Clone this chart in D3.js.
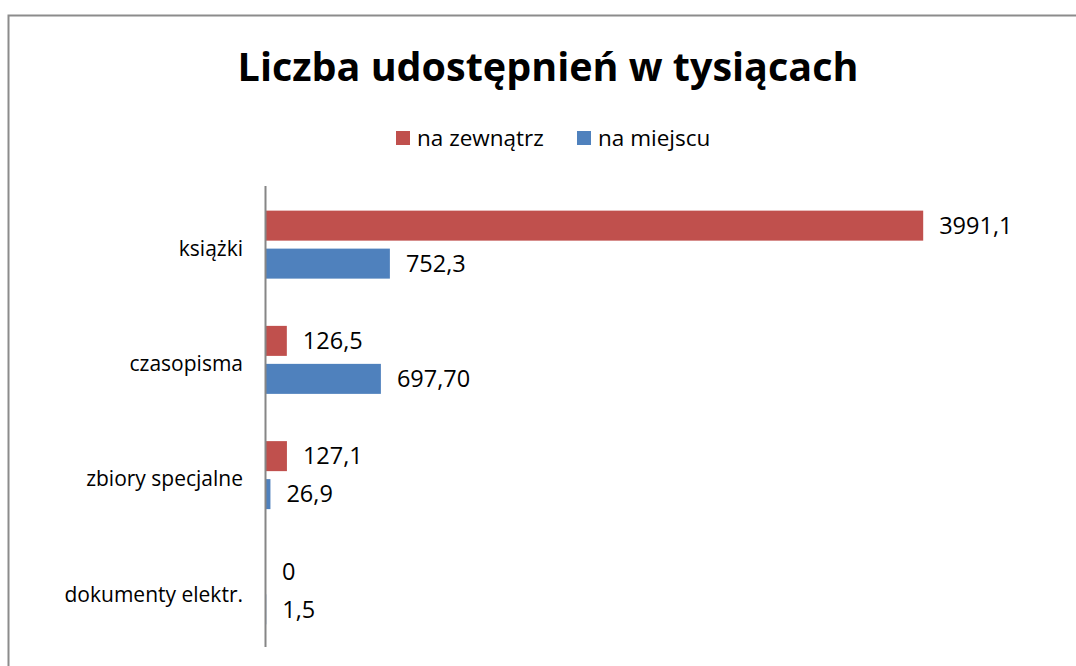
<!DOCTYPE html>
<html>
<head>
<meta charset="utf-8">
<script src="https://cdn.jsdelivr.net/npm/d3@7"></script>
<style>
  body { margin: 0; background: #fff; }
  svg { display: block; font-family: "Open Sans", sans-serif; }
</style>
</head>
<body>
<div class="canvas"></div>
<script>
// data
const categories = ['książki', 'czasopisma', 'zbiory specjalne', 'dokumenty elektr.'];
const series = ['na zewnątrz', 'na miejscu'];
const outside = [3991.1, 126.5, 127.1, 0];
const onsite = [752.3, 697.7, 26.9, 1.5];
const outsideLabels = ['3991,1', '126,5', '127,1', '0'];
const onsiteLabels = ['752,3', '697,70', '26,9', '1,5'];
const colors = ['#C0504D', '#4F81BD'];

const dims = { width: 1076, height: 666 };
const svg = d3.select('.canvas')
              .append('svg')
              .attr('width', dims.width)
              .attr('height', dims.height);

// chart border (runs off the bottom/right of the picture)
svg.append('rect')
   .attr('x', 8.5).attr('y', 15.5)
   .attr('width', 1200).attr('height', 800)
   .attr('fill', 'none')
   .attr('stroke', '#8c8c8c')
   .attr('stroke-width', 2);

// title
svg.append('text')
   .attr('x', 548).attr('y', 81)
   .attr('text-anchor', 'middle')
   .attr('font-weight', 'bold')
   .attr('font-size', 39.5)
   .text('Liczba udostępnień w tysiącach');

// legend
const legendX = [396, 577];
const legend = svg.selectAll('.legend')
                  .data(series)
                  .enter()
                  .append('g')
                  .attr('class', 'legend')
                  .attr('transform', (d, i) => `translate(${legendX[i]}, 131)`);
legend.append('rect')
      .attr('width', 14).attr('height', 14)
      .attr('fill', (d, i) => colors[i]);
legend.append('text')
      .attr('x', 21).attr('y', 7)
      .attr('dy', '0.35em')
      .attr('font-size', 22.5)
      .text(d => d);

// scales
const x = d3.scaleLinear().domain([0, 4500]).range([266, 1007]);
const y = d3.scaleBand().domain(categories).range([187, 648]);
const sub = d3.scaleBand().domain(series).range([-34, 34]).paddingInner(0.21);

const rows = categories.map((c, i) => ({
  cat: c,
  vals: [
    { s: series[0], v: outside[i], label: outsideLabels[i], color: colors[0] },
    { s: series[1], v: onsite[i], label: onsiteLabels[i], color: colors[1] }
  ]
}));

const groups = svg.selectAll('.cat')
                  .data(rows)
                  .enter()
                  .append('g')
                  .attr('class', 'cat')
                  .attr('transform', d => `translate(0, ${y(d.cat) + y.bandwidth() / 2})`);

groups.selectAll('rect')
      .data(d => d.vals)
      .enter()
      .append('rect')
      .attr('x', x(0))
      .attr('y', d => sub(d.s))
      .attr('width', d => x(d.v) - x(0))
      .attr('height', sub.bandwidth())
      .attr('fill', d => d.color);

groups.selectAll('.val')
      .data(d => d.vals)
      .enter()
      .append('text')
      .attr('class', 'val')
      .attr('x', d => x(d.v) + 16)
      .attr('y', d => sub(d.s) + sub.bandwidth() / 2)
      .attr('dy', '0.35em')
      .attr('font-size', 23.5)
      .text(d => d.label);

// category labels
groups.append('text')
      .attr('x', 243)
      .attr('y', 4)
      .attr('dy', '0.35em')
      .attr('text-anchor', 'end')
      .attr('font-size', 21)
      .text(d => d.cat);

// vertical axis line
svg.append('line')
   .attr('x1', 265.5).attr('x2', 265.5)
   .attr('y1', 186).attr('y2', 647)
   .attr('stroke', '#868686')
   .attr('stroke-width', 2);
</script>
</body>
</html>
